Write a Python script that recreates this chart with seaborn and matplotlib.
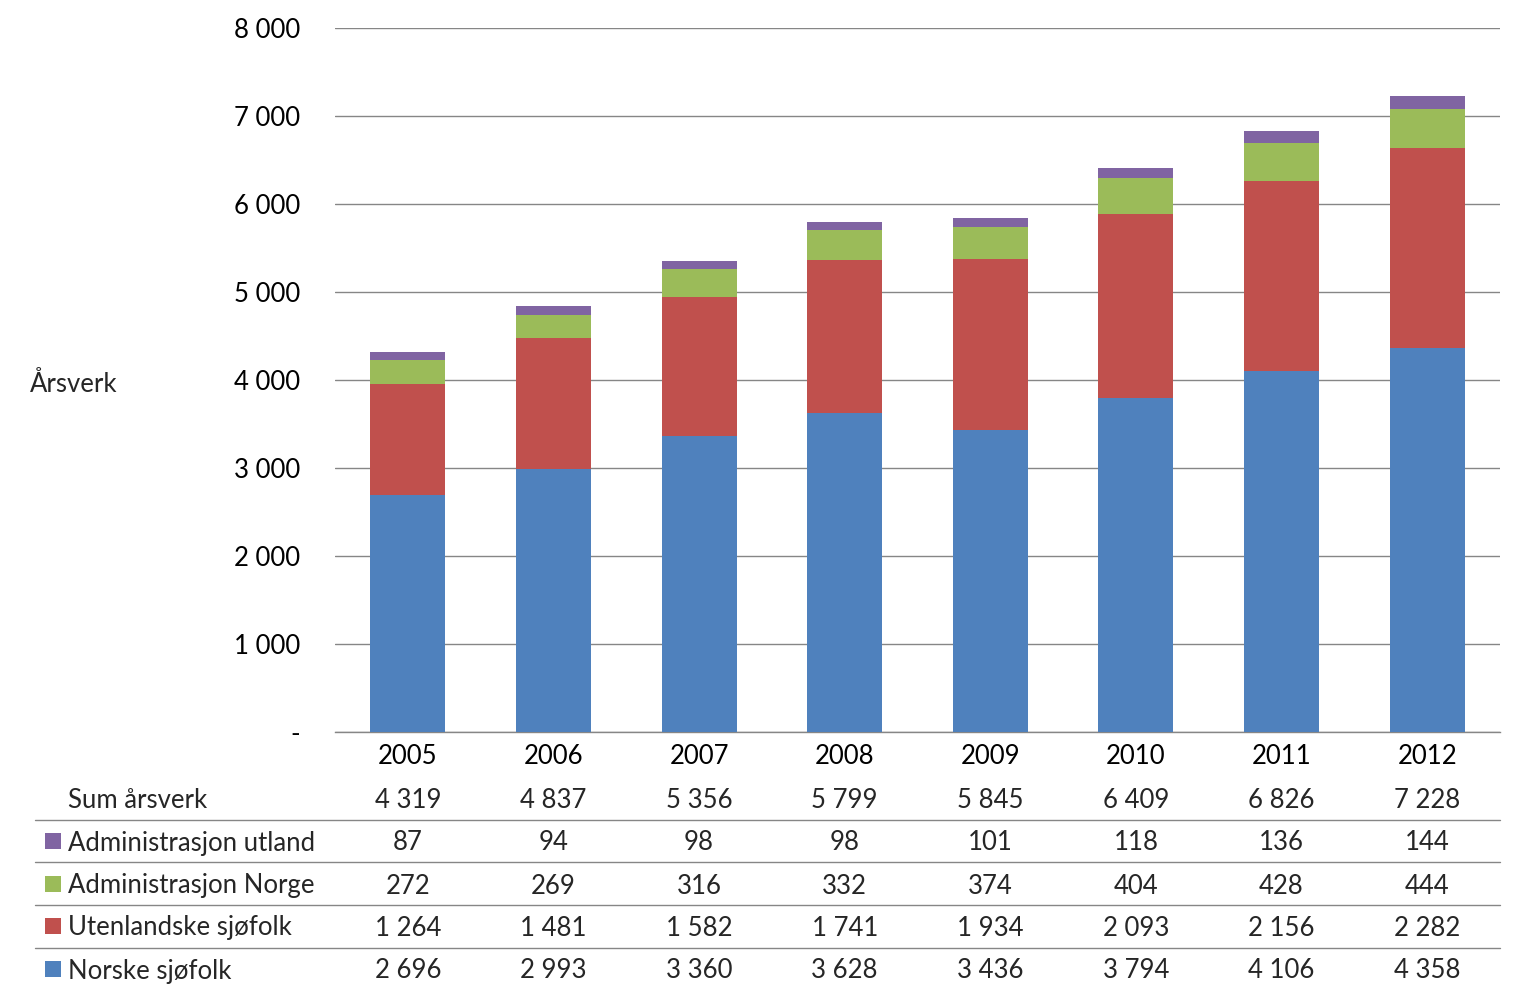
import matplotlib
matplotlib.use("Agg")
import matplotlib.pyplot as plt
import seaborn as sns
import pandas as pd
import numpy as np
from matplotlib.patches import Rectangle
from matplotlib.lines import Line2D
from matplotlib.ticker import FuncFormatter

years = ["2005", "2006", "2007", "2008", "2009", "2010", "2011", "2012"]
norske = [2696, 2993, 3360, 3628, 3436, 3794, 4106, 4358]
utenlandske = [1264, 1481, 1582, 1741, 1934, 2093, 2156, 2282]
adm_norge = [272, 269, 316, 332, 374, 404, 428, 444]
adm_utland = [87, 94, 98, 98, 101, 118, 136, 144]
sum_labels = ["4 319", "4 837", "5 356", "5 799", "5 845", "6 409", "6 826", "7 228"]

series_names = ["Administrasjon utland", "Administrasjon Norge", "Utenlandske sjøfolk", "Norske sjøfolk"]
colors = {"Norske sjøfolk": "#4F81BD", "Utenlandske sjøfolk": "#C0504D",
          "Administrasjon Norge": "#9BBB59", "Administrasjon utland": "#8064A2"}

sns.set_theme(style="white")
plt.rcParams['font.family'] = ['Lato', 'DejaVu Sans']
FS = 18.5

W, H = 1523, 1001
fig = plt.figure(figsize=(W / 100, H / 100), dpi=100)
ax_left, ax_right, ax_top, ax_bot = 335, 1500, 28, 732
ax = fig.add_axes([ax_left / W, 1 - ax_bot / H, (ax_right - ax_left) / W, (ax_bot - ax_top) / H])

df = pd.DataFrame({"year": years, "Norske sjøfolk": norske, "Utenlandske sjøfolk": utenlandske,
                   "Administrasjon Norge": adm_norge, "Administrasjon utland": adm_utland})
order_bottom_up = ["Norske sjøfolk", "Utenlandske sjøfolk", "Administrasjon Norge", "Administrasjon utland"]
cum = df[order_bottom_up].cumsum(axis=1)
# draw from top layer down so lower layers overlay
for name in reversed(order_bottom_up):
    sns.barplot(x=df["year"], y=cum[name], color=colors[name], width=0.515,
                saturation=1, ax=ax, zorder=3, linewidth=0)

ax.set_ylim(0, 8000)
ax.set_xlim(-0.5, 7.5)
ax.set_yticks(np.arange(0, 8001, 1000))
ax.yaxis.set_major_formatter(FuncFormatter(lambda v, p: "-" if v == 0 else f"{int(v):,}".replace(",", " ")))
ax.grid(axis="y", color="#868686", linewidth=1, zorder=0)
ax.grid(axis="x", visible=False)
for s in ["top", "right", "left"]:
    ax.spines[s].set_visible(False)
ax.spines["bottom"].set_color("#868686")
ax.spines["bottom"].set_linewidth(1)
ax.tick_params(axis="y", length=0, pad=25, labelsize=FS, colors="black")
ax.tick_params(axis="x", length=0, pad=9, labelsize=FS, colors="black")
ax.set_xlabel("")
ax.set_ylabel("")

fig.text(30 / W, 1 - 384 / H, "Årsverk", fontsize=FS, ha="left", va="center")

def axfrac(ypx):
    return (ax_bot - ypx) / (ax_bot - ax_top)

trans = ax.get_xaxis_transform()
DY = 2
# Sum row
fig.text(68 / W, 1 - (798 + DY) / H, "Sum årsverk", fontsize=FS, ha="left", va="center")
for i, s in enumerate(sum_labels):
    ax.text(i, axfrac(798 + DY), s, transform=trans, fontsize=FS, ha="center", va="center", clip_on=False)

row_y = [841, 884, 926, 969]
row_data = {"Administrasjon utland": adm_utland, "Administrasjon Norge": adm_norge,
            "Utenlandske sjøfolk": utenlandske, "Norske sjøfolk": norske}
for name, y in zip(series_names, row_y):
    fig.patches.append(Rectangle((45 / W, 1 - (y + 8) / H), 16 / W, 16 / H,
                                 transform=fig.transFigure, facecolor=colors[name], edgecolor="none"))
    fig.text(68 / W, 1 - (y + DY) / H, name, fontsize=FS, ha="left", va="center")
    for i, v in enumerate(row_data[name]):
        ax.text(i, axfrac(y + DY), f"{v:,}".replace(",", " "), transform=trans, fontsize=FS,
                ha="center", va="center", clip_on=False)

for y in [820, 862, 905, 948]:
    fig.lines.append(Line2D([35 / W, 1500 / W], [1 - y / H, 1 - y / H], transform=fig.transFigure,
                            color="#868686", linewidth=1))

fig.savefig("out.png", dpi=100, facecolor="white")
